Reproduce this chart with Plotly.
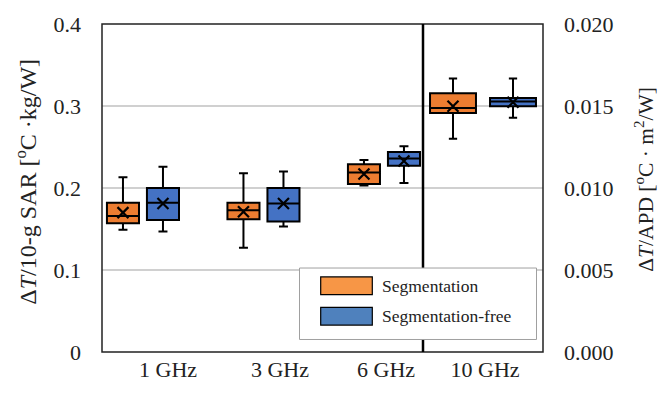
import plotly.graph_objects as go

# ---------------- data ----------------
categories_left = ["1 GHz", "3 GHz", "6 GHz"]
category_right = ["10 GHz"]

# ΔT/10-g SAR  [°C·kg/W]  (1, 3, 6 GHz)
seg_lower = [0.149, 0.127, 0.203]
seg_q1 = [0.157, 0.162, 0.205]
seg_med = [0.166, 0.173, 0.219]
seg_q3 = [0.182, 0.182, 0.229]
seg_upper = [0.213, 0.218, 0.234]
seg_mean = [0.170, 0.171, 0.217]

free_lower = [0.147, 0.153, 0.206]
free_q1 = [0.161, 0.159, 0.227]
free_med = [0.182, 0.181, 0.236]
free_q3 = [0.200, 0.200, 0.244]
free_upper = [0.226, 0.220, 0.251]
free_mean = [0.181, 0.181, 0.233]

# ΔT/APD [°C·m²/W]  (10 GHz)
seg10_lower = [0.0130]
seg10_q1 = [0.01458]
seg10_med = [0.01488]
seg10_q3 = [0.01578]
seg10_upper = [0.01668]
seg10_mean = [0.01498]

free10_lower = [0.01429]
free10_q1 = [0.01498]
free10_med = [0.01527]
free10_q3 = [0.01549]
free10_upper = [0.01668]
free10_mean = [0.01523]

series_names = ["Segmentation", "Segmentation-free"]

# ---------------- style ----------------
ORANGE = "#ED7D31"
BLUE = "#4472C4"
LEG_ORANGE = "#F79646"
LEG_BLUE = "#4F81BD"
FONT = "Liberation Serif"

off_l = 0.166
w_l = 0.266
off_r = 0.25
w_r = 0.383
label_shift_left = [0.208, 0.137, 0.017]   # tick labels sit right of the box pairs
label_shift_right = [0.017]

fig = go.Figure()

idx_left = list(range(len(categories_left)))
idx_right = list(range(len(category_right)))


def add_box(xpos, lo, q1, med, q3, up, mean, color, width, ww, xa, ya):
    fig.add_trace(go.Box(
        x=xpos, lowerfence=lo, q1=q1, median=med, q3=q3, upperfence=up,
        width=width, whiskerwidth=ww, fillcolor=color,
        line=dict(color="black", width=2), boxpoints=False,
        showlegend=False, xaxis=xa, yaxis=ya, hoverinfo="skip"))
    fig.add_trace(go.Scatter(
        x=xpos, y=mean, mode="markers",
        marker=dict(symbol="x-thin", size=11, line=dict(color="black", width=2.2)),
        showlegend=False, xaxis=xa, yaxis=ya, hoverinfo="skip"))


add_box([i - off_l for i in idx_left], seg_lower, seg_q1, seg_med, seg_q3, seg_upper, seg_mean,
        ORANGE, w_l, 0.28, "x", "y")
add_box([i + off_l for i in idx_left], free_lower, free_q1, free_med, free_q3, free_upper, free_mean,
        BLUE, w_l, 0.28, "x", "y")
add_box([i - off_r for i in idx_right], seg10_lower, seg10_q1, seg10_med, seg10_q3, seg10_upper, seg10_mean,
        ORANGE, w_r, 0.18, "x2", "y2")
add_box([i + off_r for i in idx_right], free10_lower, free10_q1, free10_med, free10_q3, free10_upper, free10_mean,
        BLUE, w_r, 0.18, "x2", "y2")

split = (423 - 102) / 441

tickfont = dict(family=FONT, size=22, color="#222")

fig.update_layout(
    width=660, height=394,
    margin=dict(l=102, r=117, t=22, b=31),
    paper_bgcolor="white", plot_bgcolor="white",
    boxmode="overlay",
    font=dict(family=FONT, size=22, color="#222"),
    xaxis=dict(domain=[0, split], range=[-0.34, 2.324],
               tickvals=[i + s for i, s in zip(idx_left, label_shift_left)], ticktext=categories_left,
               showgrid=False, zeroline=False, showline=False, ticks="", tickfont=tickfont,
               ticklabelstandoff=2, anchor="y"),
    xaxis2=dict(domain=[split, 1], range=[-0.5, 0.5],
                tickvals=[i + s for i, s in zip(idx_right, label_shift_right)], ticktext=category_right,
                showgrid=False, zeroline=False, showline=False, ticks="", tickfont=tickfont,
                ticklabelstandoff=2, anchor="y2"),
    yaxis=dict(range=[0, 0.4], tickvals=[0, 0.1, 0.2, 0.3, 0.4], ticktext=["0", "0.1", "0.2", "0.3", "0.4"],
               showgrid=True, gridcolor="#d0d0d0", gridwidth=1.5, zeroline=False, showline=False,
               ticks="", tickfont=tickfont, ticklabelstandoff=20, anchor="x"),
    yaxis2=dict(range=[0, 0.02], tickvals=[0, 0.005, 0.01, 0.015, 0.02], tickformat=".3f",
                showgrid=True, gridcolor="#d0d0d0", gridwidth=1.5, zeroline=False, showline=False,
                ticks="", tickfont=tickfont, ticklabelstandoff=20, side="right", anchor="x2"),
)

shapes = [
    dict(type="rect", xref="paper", yref="paper", x0=0, x1=1, y0=0, y1=1,
         line=dict(color="#222", width=1.5), layer="above"),
    dict(type="line", xref="paper", yref="paper", x0=split, x1=split, y0=0, y1=1,
         line=dict(color="black", width=2.5), layer="above"),
]


def px_x(px):
    return (px - 102) / 441


def px_y(py):
    return (363 - py) / 341


# legend
shapes.append(dict(type="rect", xref="paper", yref="paper", x0=px_x(299.5), x1=px_x(536.5),
                   y0=px_y(350), y1=px_y(275.7), fillcolor="white",
                   line=dict(color="#a0a0a0", width=1), layer="above"))
leg_colors = [LEG_ORANGE, LEG_BLUE]
leg_rows = [(285, 303.3), (316.7, 335)]
annotations = []
for name, col, (t, b) in zip(series_names, leg_colors, leg_rows):
    shapes.append(dict(type="rect", xref="paper", yref="paper", x0=px_x(320.7), x1=px_x(372.3),
                       y0=px_y(b), y1=px_y(t), fillcolor=col,
                       line=dict(color="black", width=1.2), layer="above"))
    annotations.append(dict(xref="paper", yref="paper", x=px_x(380), y=px_y((t + b) / 2),
                            text=name, showarrow=False, xanchor="left", yanchor="middle",
                            font=dict(family=FONT, size=17.5, color="#222")))

annotations.append(dict(xref="paper", yref="paper", x=px_x(26), y=px_y(186),
                        text="Δ<i>T</i>/10-g SAR [<sup>o</sup>C ·kg/W]", textangle=-90,
                        showarrow=False, xanchor="center", yanchor="middle",
                        font=dict(family=FONT, size=24, color="#222")))
annotations.append(dict(xref="paper", yref="paper", x=px_x(645), y=px_y(184),
                        text="Δ<i>T</i>/APD [<sup>o</sup>C · m<sup>2</sup>/W]", textangle=-90,
                        showarrow=False, xanchor="center", yanchor="middle",
                        font=dict(family=FONT, size=21.5, color="#222")))

fig.update_layout(shapes=shapes, annotations=annotations)

fig.write_html("out.html")
